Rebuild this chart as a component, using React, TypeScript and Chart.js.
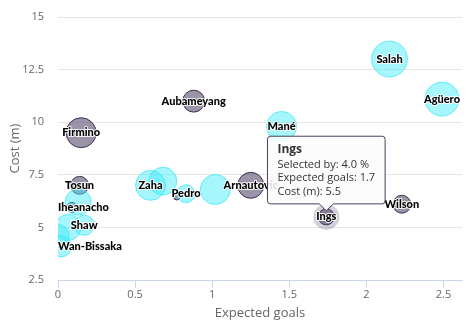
import React, { useEffect, useRef } from 'react';
import { Chart, registerables } from 'chart.js';

Chart.register(...registerables);

// Series 1 (grey)
const greyNames = ['Aubameyang', 'Firmino', 'Tosun', 'Iheanacho', '', 'Arnautovic', 'Ings', 'Wilson'];
const greyGoals = [0.88, 0.15, 0.14, 0.09, 0.77, 1.25, 1.74, 2.23];
const greyCost = [11.0, 9.5, 7.0, 5.95, 6.45, 7.0, 5.5, 6.1];
const greySelected = [7.5, 14, 5, 1.6, 0.6, 10.5, 4.0, 5];

// Series 2 (cyan)
const cyanNames = ['Salah', 'Agüero', 'Mané', 'Zaha', '', 'Pedro', '', '', '', 'Shaw', 'Wan-Bissaka', ''];
const cyanGoals = [2.15, 2.49, 1.45, 0.6, 0.68, 0.83, 1.02, 0.13, 0.065, 0.17, 0.02, 0.0];
const cyanCost = [13.0, 11.1, 9.8, 7.0, 7.2, 6.6, 6.8, 6.2, 5.0, 5.1, 4.1, 4.6];
const cyanSelected = [20, 18, 14, 14, 12, 5, 14, 10.6, 10.6, 6.3, 7, 8];

const xTicks = [0, 0.5, 1, 1.5, 2, 2.5];
const yTicks = [2.5, 5, 7.5, 10, 12.5, 15];

const hoveredSeries = 1;
const hoveredIndex = 6;

const sizeOf = (z: number) => Math.max(3, 4 * Math.sqrt(z));

const GREY_FILL = 'rgba(55,40,80,0.5)';
const GREY_LINE = '#3d3050';
const CYAN_FILL = 'rgba(60,235,250,0.46)';
const CYAN_LINE = 'rgba(70,230,250,0.8)';

export default function App() {
  const ref = useRef<HTMLCanvasElement | null>(null);

  useEffect(() => {
    if (!ref.current) return;
    const allNames = [cyanNames, greyNames];
    const allSel = [cyanSelected, greySelected];

    const labelPlugin = {
      id: 'bubbleLabels',
      beforeDatasetsDraw(chart: any) {
        const meta = chart.getDatasetMeta(hoveredSeries);
        const el = meta.data[hoveredIndex];
        if (!el) return;
        const ctx = chart.ctx;
        ctx.save();
        ctx.beginPath();
        ctx.arc(el.x, el.y, el.options.radius + 5, 0, Math.PI * 2);
        ctx.fillStyle = 'rgba(55,40,80,0.22)';
        ctx.fill();
        ctx.restore();
      },
      afterDatasetsDraw(chart: any) {
        const ctx = chart.ctx;
        const area = chart.chartArea;
        ctx.save();
        ctx.font = '900 11px Lato';
        ctx.textBaseline = 'middle';
        ctx.textAlign = 'left';
        ctx.lineJoin = 'round';
        [1, 0].forEach((di) => {
          const meta = chart.getDatasetMeta(di);
          const names = allNames[di];
          meta.data.forEach((el: any, i: number) => {
            const n = names[i];
            if (!n) return;
            const w = ctx.measureText(n).width;
            let x = el.x - w / 2;
            x = Math.max(area.left, Math.min(area.right - w, x));
            ctx.strokeStyle = 'rgba(255,255,255,0.9)';
            ctx.lineWidth = 2;
            ctx.strokeText(n, x, el.y);
            ctx.fillStyle = '#000';
            ctx.fillText(n, x, el.y);
          });
        });
        ctx.restore();
      },
    };

    const chart = new Chart(ref.current, {
      type: 'bubble',
      data: {
        datasets: [
          {
            label: 'cyan',
            data: cyanGoals.map((x, i) => ({ x, y: cyanCost[i], r: sizeOf(cyanSelected[i]) })),
            backgroundColor: CYAN_FILL,
            borderColor: CYAN_LINE,
            borderWidth: 1,
            hoverBackgroundColor: CYAN_FILL,
            hoverBorderColor: CYAN_LINE,
            hoverBorderWidth: 1,
            hoverRadius: 0,
          },
          {
            label: 'grey',
            data: greyGoals.map((x, i) => ({ x, y: greyCost[i], r: sizeOf(greySelected[i]) })),
            backgroundColor: GREY_FILL,
            borderColor: GREY_LINE,
            borderWidth: 1,
            hoverBackgroundColor: GREY_FILL,
            hoverBorderColor: GREY_LINE,
            hoverBorderWidth: 1,
            hoverRadius: 0,
          },
        ],
      },
      options: {
        animation: false,
        responsive: true,
        maintainAspectRatio: false,
        events: [],
        layout: { autoPadding: false, padding: { top: 17, right: 10, left: 0, bottom: 0 } },
        plugins: {
          legend: { display: false },
          tooltip: {
            enabled: true,
            xAlign: 'center',
            yAlign: 'bottom',
            caretSize: 7,
            caretPadding: 6,
            backgroundColor: 'rgba(252,252,252,0.88)',
            borderColor: '#4a3f5c',
            borderWidth: 1,
            cornerRadius: 3,
            titleColor: '#333',
            bodyColor: '#333',
            titleFont: { family: 'Open Sans', size: 12, weight: 'bold', lineHeight: 1.2 },
            bodyFont: { family: 'Open Sans', size: 11, lineHeight: 1.25 },
            titleMarginBottom: 1,
            bodySpacing: 0,
            padding: { left: 10, right: 10, top: 6, bottom: 5 },
            displayColors: false,
            callbacks: {
              title: (items: any[]) => allNames[items[0].datasetIndex][items[0].dataIndex],
              label: (item: any) => [
                `Selected by: ${allSel[item.datasetIndex][item.dataIndex].toFixed(1)} %`,
                `Expected goals: ${item.raw.x.toFixed(1)}`,
                `Cost (m): ${item.raw.y}`,
              ],
            },
          },
        },
        scales: {
          x: {
            type: 'linear',
            min: 0,
            max: 2.62,
            afterBuildTicks: (s: any) => {
              s.ticks = xTicks.map((v) => ({ value: v }));
            },
            afterFit: (s: any) => {
              s.height = 49;
              s.paddingLeft = 0;
              s.paddingRight = 0;
            },
            ticks: {
              color: '#666',
              font: { family: 'Open Sans', size: 11 },
              padding: 0,
              maxRotation: 0,
              callback: (v: any) => String(v),
            },
            grid: { drawOnChartArea: false, drawTicks: true, tickLength: 8, color: '#ccd6eb' },
            border: { color: '#ccd6eb' },
            title: {
              display: true,
              text: 'Expected goals',
              color: '#666',
              font: { family: 'Open Sans', size: 13 },
              padding: { top: 0, bottom: 8 },
            },
          },
          y: {
            type: 'linear',
            min: 2.5,
            max: 15,
            afterBuildTicks: (s: any) => {
              s.ticks = yTicks.map((v) => ({ value: v }));
            },
            afterFit: (s: any) => {
              s.width = 58;
              s.paddingTop = 0;
              s.paddingBottom = 0;
            },
            ticks: {
              color: '#666',
              font: { family: 'Open Sans', size: 11 },
              padding: 14,
              callback: (v: any) => String(v),
            },
            grid: { color: '#e6e6e6', drawTicks: false },
            border: { display: false },
            title: {
              display: true,
              text: 'Cost (m)',
              color: '#666',
              font: { family: 'Open Sans', size: 13 },
              padding: { top: 7, bottom: 0 },
            },
          },
        },
      } as any,
      plugins: [labelPlugin],
    });

    const active = [{ datasetIndex: hoveredSeries, index: hoveredIndex }];
    chart.setActiveElements(active);
    chart.tooltip?.setActiveElements(active, { x: 0, y: 0 });
    chart.update();

    return () => chart.destroy();
  }, []);

  return (
    <div style={{ position: 'absolute', left: 0, top: 0, width: 472, height: 329 }}>
      <canvas ref={ref} />
    </div>
  );
}
